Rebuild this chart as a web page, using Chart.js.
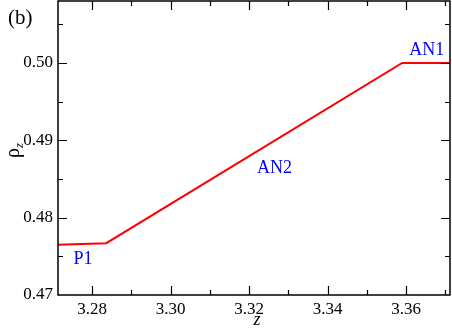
<!DOCTYPE html>
<html><head><meta charset="utf-8">
<script src="https://cdn.jsdelivr.net/npm/chart.js@4/dist/chart.umd.min.js"></script>
<style>html,body{margin:0;padding:0;background:#fff}#wrap{width:452px;height:328px}</style>
</head><body><div id="wrap"><canvas id="c" width="452" height="328"></canvas></div>
<script>
const zValues = [3.2713, 3.2836, 3.3590, 3.3712];
const rhoValues = [0.4765, 0.4767, 0.5000, 0.5000];
const xMajorTicks = [3.28, 3.30, 3.32, 3.34, 3.36];
const xMinorTicks = [3.29, 3.31, 3.33, 3.35, 3.37];
const yMajorTicks = [0.47, 0.48, 0.49, 0.50];
const yMinorTicks = [0.475, 0.485, 0.495, 0.505];
const xRange = [3.2713, 3.3712];
const yRange = [0.47, 0.508];
const annotations = [
  {text: 'P1', x: 3.2777, y: 0.4740},
  {text: 'AN2', x: 3.3265, y: 0.4858},
  {text: 'AN1', x: 3.3653, y: 0.5010}
];

const FONT = 'Liberation Serif';

const framePlugin = {
  id: 'frame',
  afterDraw(chart) {
    const ctx = chart.ctx, a = chart.chartArea;
    const xs = chart.scales.x, ys = chart.scales.y;
    ctx.save();
    ctx.strokeStyle = '#000';
    ctx.lineWidth = 1.5;
    ctx.strokeRect(a.left, a.top, a.right - a.left, a.bottom - a.top);
    ctx.lineWidth = 1.2;
    ctx.beginPath();
    const tick = (vals, len) => {
      vals.forEach(v => {
        const px = Math.round(xs.getPixelForValue(v)) + 0.5;
        if (px < a.left || px > a.right) return;
        ctx.moveTo(px, a.bottom); ctx.lineTo(px, a.bottom - len);
        ctx.moveTo(px, a.top); ctx.lineTo(px, a.top + len);
      });
    };
    const ytick = (vals, len) => {
      vals.forEach(v => {
        const py = Math.round(ys.getPixelForValue(v)) + 0.5;
        if (py < a.top || py > a.bottom) return;
        ctx.moveTo(a.left, py); ctx.lineTo(a.left + len, py);
        ctx.moveTo(a.right, py); ctx.lineTo(a.right - len, py);
      });
    };
    tick(xMajorTicks, 9); tick(xMinorTicks, 5);
    ytick(yMajorTicks, 9); ytick(yMinorTicks, 5);
    ctx.stroke();

    ctx.fillStyle = '#0000ff';
    ctx.font = '18px "' + FONT + '", serif';
    ctx.textAlign = 'center';
    ctx.textBaseline = 'alphabetic';
    annotations.forEach(t => {
      ctx.fillText(t.text, xs.getPixelForValue(t.x), ys.getPixelForValue(t.y));
    });

    ctx.fillStyle = '#000';
    ctx.textBaseline = 'middle';
    ctx.font = '21px "' + FONT + '", serif';
    ctx.textAlign = 'left';
    ctx.fillText('(b)', 8, 18);

    ctx.font = 'italic 18px "' + FONT + '", serif';
    ctx.textAlign = 'center';
    ctx.fillText('z', (a.left + a.right) / 2 + 3, 320);

    ctx.save();
    ctx.translate(14, 152);
    ctx.rotate(-Math.PI / 2);
    ctx.font = '20px "' + FONT + '", serif';
    ctx.textAlign = 'left';
    ctx.fillText('\u03C1', -6, 0);
    ctx.font = 'italic 13px "' + FONT + '", serif';
    ctx.fillText('z', 4, 6);
    ctx.restore();
    ctx.restore();
  }
};

new Chart(document.getElementById('c'), {
  type: 'line',
  data: {
    datasets: [{
      data: zValues.map((z, i) => ({x: z, y: rhoValues[i]})),
      borderColor: '#ff0000',
      borderWidth: 2,
      pointRadius: 0,
      tension: 0,
      fill: false
    }]
  },
  options: {
    responsive: false,
    animation: false,
    events: [],
    layout: {padding: {top: 1, right: 2, left: 0, bottom: 0}},
    plugins: {legend: {display: false}, tooltip: {enabled: false}},
    scales: {
      x: {
        type: 'linear', min: xRange[0], max: xRange[1],
        afterBuildTicks: s => { s.ticks = xMajorTicks.map(v => ({value: v})); },
        afterFit: s => { s.height = 33; s.paddingLeft = 0; s.paddingRight = 0; },
        grid: {display: false, drawTicks: false},
        border: {display: false},
        ticks: {
          padding: 4, color: '#000', font: {family: '"Liberation Serif", serif', size: 17},
          maxRotation: 0, autoSkip: false,
          callback: v => Number(v).toFixed(2)
        }
      },
      y: {
        type: 'linear', min: yRange[0], max: yRange[1],
        afterBuildTicks: s => { s.ticks = yMajorTicks.map(v => ({value: v})); },
        afterFit: s => { s.width = 58; s.paddingTop = 0; s.paddingBottom = 0; },
        grid: {display: false, drawTicks: false},
        border: {display: false},
        ticks: {
          padding: 5, color: '#000', font: {family: '"Liberation Serif", serif', size: 17},
          autoSkip: false,
          callback: v => Number(v).toFixed(2)
        }
      }
    }
  },
  plugins: [framePlugin]
});
</script>
</body></html>
